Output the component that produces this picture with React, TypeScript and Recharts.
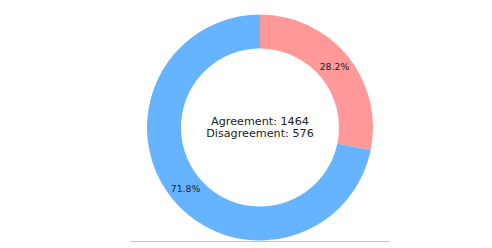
import React from 'react';
import { PieChart, Pie, Cell } from 'recharts';

const categories = ['Disagreement', 'Agreement'];
const counts = [576, 1464];
const colors = ['#ff9999', '#66b3ff'];

const data = categories.map((name, i) => ({ name, value: counts[i] }));
const total = counts.reduce((a, b) => a + b, 0);

const CX = 260;
const CY = 127.5;
const RAD = Math.PI / 180;

const renderPct = (props: any) => {
  const { cx, cy, midAngle, outerRadius, value } = props;
  const r = outerRadius * 0.85;
  const x = cx + r * Math.cos(-midAngle * RAD);
  const y = cy + r * Math.sin(-midAngle * RAD);
  return (
    <text x={x} y={y} textAnchor="middle" dominantBaseline="central"
      fontFamily="DejaVu Sans" fontSize={9.3} fill="#222">
      {((value / total) * 100).toFixed(1)}%
    </text>
  );
};

export default function App() {
  return (
    <div style={{ position: 'absolute', left: 0, top: 0, width: 492, height: 248, background: '#fff' }}>
      <PieChart width={492} height={248} margin={{ top: 0, right: 0, bottom: 0, left: 0 }}>
        <Pie
          data={data}
          dataKey="value"
          nameKey="name"
          cx={CX}
          cy={CY}
          innerRadius={79}
          outerRadius={113}
          startAngle={90}
          endAngle={-270}
          stroke="none"
          paddingAngle={0}
          labelLine={false}
          label={renderPct}
          isAnimationActive={false}
        >
          {data.map((d, i) => (
            <Cell key={d.name} fill={colors[i]} />
          ))}
        </Pie>
      </PieChart>
      <div style={{
        position: 'absolute', left: CX - 100, top: CY - 12, width: 200,
        textAlign: 'center', fontFamily: 'DejaVu Sans', fontSize: 11.2, lineHeight: '12.5px', color: '#222'
      }}>
        <div>{`${categories[1]}: ${counts[1]}`}</div>
        <div>{`${categories[0]}: ${counts[0]}`}</div>
      </div>
      <div style={{ position: 'absolute', left: 130, top: 241, width: 260, height: 1, background: '#c4c4c4' }} />
    </div>
  );
}
